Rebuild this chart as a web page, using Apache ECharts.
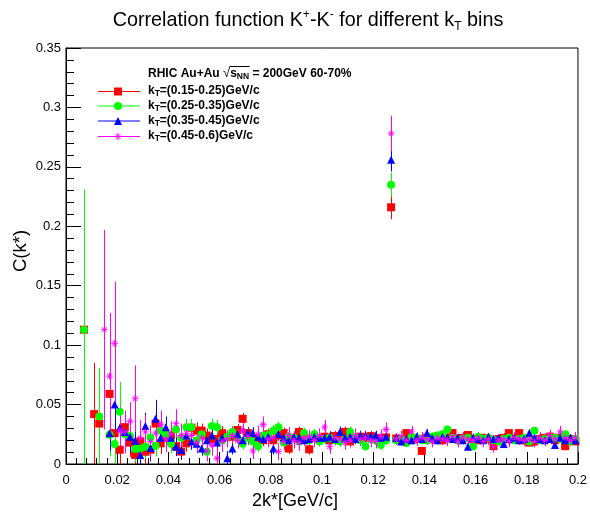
<!DOCTYPE html>
<html><head><meta charset="utf-8">
<script src="https://cdn.jsdelivr.net/npm/echarts@6/dist/echarts.min.js"></script>
<style>html,body{margin:0;padding:0;background:#fff}#c{width:590px;height:514px}</style>
</head><body><div id="c"></div>
<script>
// bin centers of 2k* [GeV/c]
const binCenters = [
0.001,0.003,0.005,0.007,0.009,0.011,0.013,0.015,0.017,0.019,
0.021,0.023,0.025,0.027,0.029,0.031,0.033,0.035,0.037,0.039,
0.041,0.043,0.045,0.047,0.049,0.051,0.053,0.055,0.057,0.059,
0.061,0.063,0.065,0.067,0.069,0.071,0.073,0.075,0.077,0.079,
0.081,0.083,0.085,0.087,0.089,0.091,0.093,0.095,0.097,0.099,
0.101,0.103,0.105,0.107,0.109,0.111,0.113,0.115,0.117,0.119,
0.121,0.123,0.125,0.127,0.129,0.131,0.133,0.135,0.137,0.139,
0.141,0.143,0.145,0.147,0.149,0.151,0.153,0.155,0.157,0.159,
0.161,0.163,0.165,0.167,0.169,0.171,0.173,0.175,0.177,0.179,
0.181,0.183,0.185,0.187,0.189,0.191,0.193,0.195,0.197,0.199];

// kT = 0.15-0.25
const redC = [
null,null,null,0.113,null,0.042,0.034,null,0.059,0.026,
0.012,0.031,0.018,0.0076,0.019,0.0103,0.012,0.034,0.0174,0.022,
0.024,0.015,0.0104,0.0174,0.0305,0.028,0.028,0.024,0.021,0.021,
0.026,0.023,0.023,0.0286,0.038,0.026,0.021,0.022,0.020,0.025,
0.020,0.024,0.026,0.013,0.022,0.027,0.023,0.0124,0.022,0.021,
0.023,0.020,0.0235,0.022,0.027,0.019,0.021,0.023,0.022,0.0235,
0.022,0.021,0.0224,0.216,0.0215,0.020,0.026,0.022,0.021,0.011,
0.022,0.021,0.023,0.020,0.022,0.026,0.021,0.022,0.0244,0.021,
0.020,0.022,0.021,0.015,0.021,0.022,0.026,0.021,0.026,0.020,
0.018,0.019,0.021,0.022,0.023,0.020,0.022,0.015,0.021,0.019];
const redE = [
null,null,null,0.100,null,0.043,0.020,null,0.034,0.018,
0.014,0.013,0.012,0.011,0.011,0.010,0.010,0.009,0.009,0.008,
0.008,0.008,0.007,0.007,0.007,0.007,0.006,0.006,0.006,0.006,
0.006,0.005,0.005,0.005,0.005,0.005,0.005,0.005,0.005,0.005,
0.005,0.0045,0.0045,0.0045,0.0045,0.0045,0.0045,0.0045,0.0045,0.0045,
0.0045,0.0045,0.0045,0.0045,0.0045,0.0045,0.004,0.004,0.004,0.004,
0.004,0.004,0.004,0.010,0.0035,0.0035,0.0035,0.0035,0.0035,0.0035,
0.0035,0.0035,0.0035,0.0035,0.0035,0.0035,0.0035,0.0035,0.0035,0.0035,
0.003,0.003,0.003,0.003,0.003,0.003,0.003,0.003,0.003,0.003,
0.003,0.003,0.003,0.003,0.003,0.003,0.003,0.003,0.003,0.003];

// kT = 0.25-0.35
const greenC = [
null,null,null,0.113,null,null,0.040,null,0.0246,0.0168,
0.044,0.025,0.0235,0.0126,0.013,0.0146,0.0224,0.0154,0.028,0.025,
0.017,0.029,0.022,0.031,0.031,0.020,0.025,0.0104,0.032,0.031,
0.020,0.023,0.027,0.022,0.017,0.022,0.019,0.015,0.024,0.0244,
0.028,0.031,0.018,0.023,0.022,0.019,0.026,0.020,0.025,0.019,
0.021,0.022,0.020,0.019,0.021,0.027,0.022,0.020,0.015,0.021,
0.020,0.016,0.020,0.235,0.020,0.021,0.0177,0.023,0.022,0.020,
0.020,0.023,0.024,0.025,0.029,0.022,0.020,0.021,0.022,0.015,
0.023,0.021,0.022,0.020,0.019,0.021,0.022,0.020,0.021,0.022,
0.019,0.028,0.020,0.021,0.022,0.022,0.021,0.025,0.019,0.021];
const greenE = [
null,null,null,0.118,null,null,0.041,null,0.018,0.016,
0.025,0.014,0.012,0.011,0.011,0.010,0.010,0.009,0.009,0.008,
0.008,0.008,0.007,0.007,0.007,0.007,0.006,0.006,0.006,0.006,
0.006,0.005,0.005,0.005,0.005,0.005,0.005,0.005,0.005,0.005,
0.005,0.0045,0.0045,0.0045,0.0045,0.0045,0.0045,0.0045,0.0045,0.0045,
0.0045,0.0045,0.0045,0.0045,0.0045,0.0045,0.004,0.004,0.004,0.004,
0.004,0.004,0.004,0.010,0.0035,0.0035,0.0035,0.0035,0.0035,0.0035,
0.0035,0.0035,0.0035,0.0035,0.0035,0.0035,0.0035,0.0035,0.0035,0.0035,
0.003,0.003,0.003,0.003,0.003,0.003,0.003,0.003,0.003,0.003,
0.003,0.003,0.003,0.003,0.003,0.003,0.003,0.003,0.003,0.003];

// kT = 0.35-0.45
const blueC = [
null,null,null,null,null,null,null,null,0.0258,0.050,
0.0305,0.027,0.023,0.0196,0.0076,0.032,0.0134,0.038,0.022,0.031,
0.022,0.0146,0.0118,0.024,0.019,0.017,0.013,0.020,0.024,0.018,
0.022,0.0048,0.013,0.025,0.020,0.026,0.026,0.023,0.021,0.023,
0.013,0.025,0.022,0.020,0.023,0.022,0.020,0.021,0.023,0.022,
0.022,0.023,0.021,0.027,0.022,0.023,0.021,0.024,0.024,0.0235,
0.024,0.022,0.023,0.256,0.022,0.019,0.021,0.020,0.023,0.021,
0.026,0.022,0.020,0.023,0.022,0.021,0.022,0.020,0.0146,0.022,
0.021,0.020,0.023,0.021,0.022,0.0168,0.021,0.022,0.020,0.021,
0.026,0.022,0.021,0.020,0.021,0.016,0.022,0.020,0.022,0.020];
const blueE = [
null,null,null,null,null,null,null,null,0.015,0.022,
0.016,0.014,0.013,0.012,0.011,0.011,0.010,0.016,0.009,0.009,
0.008,0.008,0.008,0.007,0.007,0.007,0.006,0.006,0.006,0.006,
0.006,0.006,0.005,0.005,0.005,0.005,0.005,0.005,0.005,0.005,
0.005,0.0045,0.0045,0.0045,0.0045,0.0045,0.0045,0.0045,0.0045,0.0045,
0.0045,0.0045,0.0045,0.0045,0.0045,0.0045,0.004,0.004,0.004,0.004,
0.004,0.004,0.004,0.010,0.0035,0.0035,0.0035,0.0035,0.0035,0.0035,
0.0035,0.0035,0.0035,0.0035,0.0035,0.0035,0.0035,0.0035,0.0035,0.0035,
0.003,0.003,0.003,0.003,0.003,0.003,0.003,0.003,0.003,0.003,
0.003,0.003,0.003,0.003,0.003,0.003,0.003,0.003,0.003,0.003];

// kT = 0.45-0.6
const pinkC = [
null,null,null,null,null,null,null,0.113,0.074,0.1015,
0.028,0.027,0.036,0.055,0.022,0.027,0.019,0.026,0.033,0.021,
0.025,0.034,0.024,0.026,0.024,0.018,0.022,0.011,0.016,0.0048,
0.019,0.021,0.024,0.020,0.028,0.023,0.011,0.025,0.033,0.021,
0.022,0.0104,0.019,0.024,0.020,0.018,0.022,0.023,0.020,0.024,
0.031,0.0146,0.022,0.021,0.018,0.020,0.024,0.021,0.022,0.020,
0.019,0.023,0.029,0.278,0.021,0.023,0.020,0.027,0.020,0.022,
0.021,0.019,0.022,0.021,0.020,0.023,0.019,0.022,0.021,0.020,
0.022,0.019,0.021,0.0146,0.020,0.021,0.019,0.022,0.021,0.020,
0.021,0.019,0.022,0.020,0.024,0.021,0.027,0.022,0.020,0.022];
const pinkE = [
null,null,null,null,null,null,null,0.084,0.053,0.052,
0.020,0.018,0.016,0.028,0.015,0.014,0.013,0.012,0.012,0.011,
0.011,0.012,0.010,0.009,0.009,0.009,0.009,0.009,0.009,0.009,
0.009,0.007,0.007,0.007,0.007,0.007,0.007,0.007,0.007,0.007,
0.007,0.007,0.007,0.007,0.007,0.007,0.006,0.006,0.006,0.006,
0.006,0.006,0.006,0.006,0.006,0.006,0.006,0.006,0.006,0.006,
0.006,0.006,0.006,0.015,0.005,0.005,0.005,0.005,0.005,0.005,
0.005,0.005,0.005,0.005,0.005,0.005,0.005,0.005,0.005,0.005,
0.005,0.005,0.005,0.005,0.005,0.005,0.005,0.005,0.005,0.005,
0.005,0.005,0.005,0.005,0.005,0.005,0.005,0.005,0.005,0.005];

const xTicks = [0,0.02,0.04,0.06,0.08,0.1,0.12,0.14,0.16,0.18,0.2];
const yTicks = [0,0.05,0.1,0.15,0.2,0.25,0.3,0.35];

const seriesDefs = [
  {name:'kT=(0.15-0.25)GeV/c', label:'(0.15-0.25)GeV/c', c:redC, e:redE, color:'#ff0000', symbol:'rect', size:8},
  {name:'kT=(0.25-0.35)GeV/c', label:'(0.25-0.35)GeV/c', c:greenC, e:greenE, color:'#00ff00', symbol:'circle', size:8},
  {name:'kT=(0.35-0.45)GeV/c', label:'(0.35-0.45)GeV/c', c:blueC, e:blueE, color:'#0000ff', symbol:'triangle', size:8},
  {name:'kT=(0.45-0.6)GeV/c', label:'(0.45-0.6)GeV/c', c:pinkC, e:pinkE, color:'#ff00ff',
   symbol:'path://M4.4,0 L5.6,0 L5.6,10 L4.4,10 Z M0,4.4 L10,4.4 L10,5.6 L0,5.6 Z M1.2,2 L2,1.2 L8.8,8 L8,8.8 Z M8,1.2 L8.8,2 L2,8.8 L1.2,8 Z', size:7}
];

const FONT = '"Liberation Sans", Arial, Helvetica, sans-serif';
const chart = echarts.init(document.getElementById('c'), null, {renderer:'canvas'});

function errRender(color){
  return function(params, api){
    const x = api.value(0), y = api.value(1), e = api.value(2);
    const lo = Math.max(0, y - e), hi = Math.min(0.35, y + e);
    const p1 = api.coord([x, lo]), p2 = api.coord([x, hi]);
    const px = Math.round(p1[0]) + 0.5;
    return {type:'line', shape:{x1:px, y1:p1[1], x2:px, y2:p2[1]},
            style:{stroke:color, lineWidth:1}, silent:true};
  };
}

const series = [];
seriesDefs.forEach(function(d){
  const pts = [], errs = [];
  for (let i = 0; i < binCenters.length; i++) {
    if (d.c[i] === null) continue;
    pts.push([binCenters[i], d.c[i]]);
    errs.push([binCenters[i], d.c[i], d.e[i]]);
  }
  series.push({type:'custom', name:d.name+'_err', data:errs, renderItem:errRender(d.color),
    encode:{x:0, y:1}, dimensions:['x','y','e'], silent:true, animation:false});
  series.push({type:'scatter', name:d.name, data:pts, symbol:d.symbol, symbolSize:d.size,
    itemStyle:{color:d.color, opacity:1}, silent:true, animation:false, emphasis:{disabled:true}});
});

// Legend / annotation graphics
const g = [];
const mctx = document.createElement('canvas').getContext('2d');
function tw(font, s){ mctx.font = font; return mctx.measureText(s).width; }

g.push({type:'text', style:{x:308, y:21, text:'Correlation function K{sup|+}-K{sup|-} for different k{sub|T} bins',
  font:'19.8px '+FONT, fill:'#000', align:'center', verticalAlign:'middle', lineHeight:24,
  rich:{sup:{fontSize:12, fontFamily:FONT, verticalAlign:'top', lineHeight:15},
        sub:{fontSize:12, fontFamily:FONT, verticalAlign:'bottom', lineHeight:13}}}});

g.push({type:'text', x:21, y:251, rotation:Math.PI/2, style:{x:0, y:0, text:'C(k*)', font:'18.5px '+FONT,
  fill:'#000', align:'center', verticalAlign:'middle'}});
g.push({type:'text', style:{x:295, y:501, text:'2k*[GeV/c]', font:'18px '+FONT, fill:'#000',
  align:'center', verticalAlign:'middle'}});

// header
const HB = 'bold 12px '+FONT, HS = 'bold 8.5px '+FONT;
let hx = 148; const hy = 74;
const parts1 = 'RHIC Au+Au ';
g.push({type:'text', style:{x:hx, y:hy, text:parts1, font:HB, fill:'#000', align:'left', verticalAlign:'middle'}});
hx += tw(HB, parts1);
g.push({type:'text', style:{x:hx, y:hy-0.5, text:'\u221A', font:'13px '+FONT, fill:'#000', align:'left', verticalAlign:'middle'}});
hx += tw('13px '+FONT, '\u221A');
const ovStart = hx - 0.5;
g.push({type:'text', style:{x:hx, y:hy, text:'s', font:HB, fill:'#000', align:'left', verticalAlign:'middle'}});
hx += tw(HB, 's');
g.push({type:'text', style:{x:hx, y:hy+3, text:'NN', font:HS, fill:'#000', align:'left', verticalAlign:'middle'}});
hx += tw(HS, 'NN');
g.push({type:'line', shape:{x1:ovStart, y1:66.5, x2:hx+0.5, y2:66.5}, style:{stroke:'#000', lineWidth:1}});
g.push({type:'text', style:{x:hx, y:hy, text:' = 200GeV 60-70%', font:HB, fill:'#000', align:'left', verticalAlign:'middle'}});

const rowY = [91, 105.5, 120.5, 136];
seriesDefs.forEach(function(d, i){
  const y = rowY[i];
  g.push({type:'line', shape:{x1:98, y1:y+0.5, x2:140, y2:y+0.5}, style:{stroke:d.color, lineWidth:1}});
  let m;
  if (d.symbol === 'rect') m = {type:'rect', shape:{x:118-4, y:y+0.5-4, width:8, height:8}, style:{fill:d.color}};
  else if (d.symbol === 'circle') m = {type:'circle', shape:{cx:118, cy:y+0.5, r:4}, style:{fill:d.color}};
  else if (d.symbol === 'triangle') m = {type:'polygon', shape:{points:[[118,y-3.5],[122,y+4.5],[114,y+4.5]]}, style:{fill:d.color}};
  else m = {type:'group', children:[
    {type:'line', shape:{x1:118, y1:y-3, x2:118, y2:y+4}, style:{stroke:d.color, lineWidth:1}},
    {type:'line', shape:{x1:114.5, y1:y+0.5, x2:121.5, y2:y+0.5}, style:{stroke:d.color, lineWidth:1}},
    {type:'line', shape:{x1:115.5, y1:y-2, x2:120.5, y2:y+3}, style:{stroke:d.color, lineWidth:1}},
    {type:'line', shape:{x1:120.5, y1:y-2, x2:115.5, y2:y+3}, style:{stroke:d.color, lineWidth:1}}]};
  g.push(m);
  g.push({type:'text', style:{x:148, y:y, text:'k{sub|T}='+d.label, font:HB, fill:'#000', align:'left',
    verticalAlign:'middle', lineHeight:15,
    rich:{sub:{fontSize:8.5, fontWeight:'bold', fontFamily:FONT, verticalAlign:'bottom', lineHeight:11}}}});
});

const axisCommon = {
  axisLine:{show:true, lineStyle:{color:'#000', width:1}},
  splitLine:{show:false}
};

chart.setOption({
  animation:false,
  backgroundColor:'#fff',
  grid:{left:66, right:10, top:48, bottom:50, show:true, borderColor:'#000', borderWidth:1, containLabel:false},
  xAxis:Object.assign({}, axisCommon, {
    type:'value', min:xTicks[0], max:xTicks[xTicks.length-1], interval:xTicks[1]-xTicks[0],
    axisTick:{show:true, inside:true, length:12, lineStyle:{color:'#000'}},
    minorTick:{show:true, splitNumber:5, length:6, lineStyle:{color:'#000'}},
    axisLabel:{color:'#000', fontSize:13, fontFamily:FONT, margin:10, showMinLabel:true, showMaxLabel:true}
  }),
  yAxis:Object.assign({}, axisCommon, {
    type:'value', min:yTicks[0], max:yTicks[yTicks.length-1], interval:yTicks[1]-yTicks[0],
    axisTick:{show:true, inside:true, length:15, lineStyle:{color:'#000'}},
    minorTick:{show:true, splitNumber:5, length:8, lineStyle:{color:'#000'}},
    axisLabel:{color:'#000', fontSize:13, fontFamily:FONT, margin:5, showMinLabel:true, showMaxLabel:true}
  }),
  series:series,
  graphic:g
});
</script></body></html>
